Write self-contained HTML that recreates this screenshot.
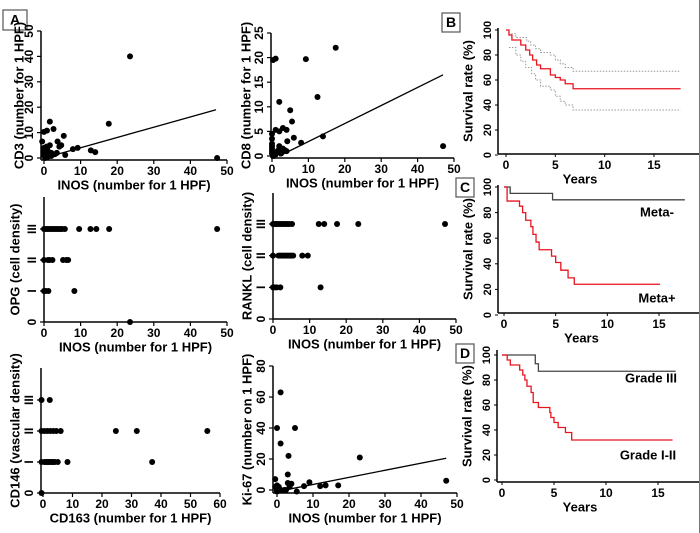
<!DOCTYPE html>
<html><head><meta charset="utf-8"><style>
body{margin:0;background:#fff;}
svg{display:block;font-family:"Liberation Sans",Arial,sans-serif;font-weight:bold;}
</style></head><body>
<svg id="fig" width="700" height="533" viewBox="0 0 700 533" xmlns="http://www.w3.org/2000/svg"></svg>
<script>
// ---------- data ----------
const cd3X=[23.5,17.7,47.3,12.8,14,9.2,7.9,5.4,4.7,3.7,4.2,2.6,1.6,1.6,0.8,0,-0.5,0,0.5,1,2,3,3.5,5.8,1,0,0.3,2,0,0.7];
const cd3Y=[40,13.5,0,3,2.3,4,3.5,8.7,5,6.5,4.5,11.4,14.3,5,10.8,10.3,6.5,4,2,3,2,1.5,2,1.2,0.5,1,0,0.8,2.5,4.5];
const cd3Fit=[[1.5,0.6],[47,19]];
const cd8X=[17.5,9.3,1,0.3,12.5,2,5,5.5,1,2,3,4,6,14,4.2,8,47,2,2,3,4,0,0,0,0,0,0,0,0.5,1,1.5,2.5,3.5];
const cd8Y=[22,19.7,19.8,19.5,12,11,9.3,7,5.3,5,5.7,5.3,3.7,4,3,2.7,2,2,1.5,1.5,1,4.5,3.5,2.5,2,1.5,1,0.5,0,0.3,1,0.5,1.2];
const cd8Fit=[[2,0],[47,16.5]];
const opgX=[0,0.5,1,1.5,2,2.5,3,3.5,4,4.5,5,5.7,9.6,12.7,14.3,17.8,47.3, 0,1.1,1.5,2.3,5.2,6.1,6.6, 0,0.5,1.2,8.3, 23.5];
const opgY=[3,3,3,3,3,3,3,3,3,3,3,3,3,3,3,3,3, 2,2,2,2,2,2,2, 1,1,1,1, 0];
const rankX=[0,0.5,1,1.5,2,2.5,3,3.5,4,4.5,5.2,12.5,14,17.5,23.3,47, 0,1.5,2,2.5,3,3.5,4,4.5,5,5.5,8,9.5, 0,0.5,1,2,13];
const rankY=[3,3,3,3,3,3,3,3,3,3,3,3,3,3,3,3, 2,2,2,2,2,2,2,2,2,2,2,2, 1,1,1,1,1];
const cd146X=[-0.5,2.3, -0.5,0.5,1.5,2.5,3.5,4.5,6,24.7,31.8,55.7, -0.5,0.5,1,1.5,2,2.5,3,3.5,4,5,8.3,37, -0.5];
const cd146Y=[3,3, 2,2,2,2,2,2,2,2,2,2, 1,1,1,1,1,1,1,1,1,1,1,1, 0];
const kiX=[1,0,5,1,3.2,23,3,-0.5,47,9,4,3,7.5,12,13.5,17,0,0,0.5,1,0,2,2.5,5.5,3.5,0,-0.5];
const kiY=[63,40,40,30,22,21,10,7,6,5,4,4.5,2.5,2.5,3,3,3,1,2,0,-1,0,0,-1,2,0,2];
const kiFit=[[0,-1],[47,20.5]];
const levelLabels=["0","I","II","III"];
// survival steps: times & values
const bT=[0,0.3,0.6,1.5,2,2.4,2.7,3.1,3.5,4.5,5,5.5,6,6.8,17.7];
const bV=[100,96,92,88,84,80,76,72,69,64,62,60,57,53,53];
const bUpT=[0,0.3,1,1.5,2.1,2.5,3,3.5,4.5,5,5.5,6,6.8,17.7];
const bUpV=[100,97,94,94,91,88,85,82,80,76,73,70,67,67];
const bLoT=[0.3,1,1.5,2,2.6,3,3.5,4.5,5,5.5,6,6.8,17.7];
const bLoV=[86,80,75,70,65,60,55,52,47,43,40,36,36];
const cMinusT=[0,0.6,4.7,17.5];
const cMinusV=[100,95,90,90];
const cPlusT=[0,0.3,1.5,1.8,2.1,2.6,2.8,3.1,3.4,4.6,5,5.5,6.2,6.8,15.1];
const cPlusV=[100,89,85,80,74,69,63,57,51,46,41,35,29,24,24];
const dIIIT=[0,3.2,3.5,16.7];
const dIIIV=[100,93,87,87];
const dIT=[0,0.5,0.8,1.7,2,2.2,2.4,2.8,3,3.5,4.6,4.7,5,5.4,6.1,6.7,16.4];
const dIV=[100,96,92,88,84,80,75,70,62,58,54,50,46,42,38,32,32];
const survTicks=[0,5,10,15];
const survYTicks=[0,20,40,60,80,100];

// ---------- helpers ----------
const svg=document.getElementById('fig');
const NS='http://www.w3.org/2000/svg';
function mk(tag,attrs,parent){const e=document.createElementNS(NS,tag);for(const k in attrs)e.setAttribute(k,attrs[k]);(parent||svg).appendChild(e);return e;}
function txt(s,x,y,size,parent,rot,anchor){const t=mk('text',{x:x,y:y,'font-size':size,'text-anchor':anchor||'middle','dominant-baseline':'middle',fill:'#000'},parent);if(rot)t.setAttribute('transform','rotate(-90 '+x+' '+y+')');t.textContent=s;return t;}
function box(label,x,y,w,h){const g=mk('g',{});
 mk('rect',{x:x,y:y,width:w,height:h,fill:'#fff',stroke:'#555','stroke-width':1.2},g);txt(label,x+w/2,y+h/2+1,14,g);}

function scatter(name,o,xs,ys,fit){
 const g=mk('g',{});
 const sx=v=>o.px0+(v-o.xmin)/(o.xmax-o.xmin)*(o.px1-o.px0);
 const sy=v=>o.py0+(v-o.ymin)/(o.ymax-o.ymin)*(o.py1-o.py0);
 mk('line',{x1:o.ax,y1:o.top,x2:o.ax,y2:o.ay,stroke:'#000','stroke-width':1.5},g);
 mk('line',{x1:o.ax,y1:o.ay,x2:sx(o.xmax),y2:o.ay,stroke:'#000','stroke-width':1.5},g);
 o.xt.forEach(v=>{mk('line',{x1:sx(v),y1:o.ay,x2:sx(v),y2:o.ay+4,stroke:'#000','stroke-width':1.2},g);txt(String(v),sx(v),o.ay+12,12,g);});
 o.yt.forEach((v,i)=>{mk('line',{x1:o.ax-4,y1:sy(v),x2:o.ax,y2:sy(v),stroke:'#000','stroke-width':1.2},g);txt(o.ytl?o.ytl[i]:String(v),o.ax-11,sy(v),12,g,true);});
 const xl=txt(o.xlabel,(o.ax+sx(o.xmax))/2,o.ay+26,13,g);
 const yl=txt(o.ylabel,o.ylx,(o.top+o.ay)/2,13,g,true);
 xs.forEach((x,i)=>{const c=mk('circle',{cx:sx(x),cy:sy(ys[i]),r:3,fill:'#000'},g);
  
  });
 if(fit){const l=mk('line',{x1:sx(fit[0][0]),y1:sy(fit[0][1]),x2:sx(fit[1][0]),y2:sy(fit[1][1]),stroke:'#000','stroke-width':1.3},g);
  
  }
}

function surv(name,o,series){
 const g=mk('g',{});
 const sx=v=>o.px0+v/15*(o.px15-o.px0);
 const sy=v=>o.p0+v/100*(o.p100-o.p0);
 mk('line',{x1:o.ax,y1:o.top,x2:o.ax,y2:o.ay,stroke:'#000','stroke-width':1.5},g);
 mk('line',{x1:o.ax,y1:o.ay,x2:o.right,y2:o.ay,stroke:'#000','stroke-width':1.5},g);
 survTicks.forEach(v=>{mk('line',{x1:sx(v),y1:o.ay,x2:sx(v),y2:o.ay+3,stroke:'#000'},g);txt(String(v),sx(v),o.ay+12,12,g);});
 survYTicks.forEach(v=>{if(sy(v)>o.ay+2)return;mk('line',{x1:o.ax-3,y1:sy(v),x2:o.ax,y2:sy(v),stroke:'#000'},g);txt(String(v),o.ax-10,sy(v),11,g,true);});
 const xl=txt('Years',(sx(0)+sx(15))/2,o.ay+26,13,g);
 const yl=txt('Survival rate (%)',o.ax-29,(o.top+o.ay)/2,13,g,true);
 series.forEach(s=>{let d='';s.t.forEach((t,i)=>{const x=sx(t),y=sy(s.v[i]);if(i===0)d='M'+x+' '+y;else d+=' H'+x+' V'+y;});
  const p=mk('path',{d:d,fill:'none',stroke:s.c,'stroke-width':s.w||1.3,'stroke-dasharray':s.dash||'none'},g);
  
  });
 return {sx,sy,g};
}

// ---------- panels ----------
box('A',3,10,24,20);
scatter('cd3-scatter',{px0:44,px1:227,xmin:0,xmax:50,py0:158,py1:31,ymin:0,ymax:50,ax:41,ay:160,top:31,xt:[0,10,20,30,40,50],yt:[0,10,20,30,40,50],xlabel:'INOS (number for 1 HPF)',ylabel:'CD3  (number for 1 HPF)',ylx:20},cd3X,cd3Y,cd3Fit);
scatter('cd8-scatter',{px0:272,px1:454,xmin:0,xmax:50,py0:156,py1:33,ymin:0,ymax:25,ax:271,ay:158,top:33,xt:[0,10,20,30,40,50],yt:[0,5,10,15,20,25],xlabel:'INOS (number for 1 HPF)',ylabel:'CD8  (number for 1 HPF)',ylx:247},cd8X,cd8Y,cd8Fit);
scatter('opg-scatter',{px0:44,px1:227,xmin:0,xmax:50,py0:322,py1:229,ymin:0,ymax:3,ax:44,ay:322,top:197,xt:[0,10,20,30,40,50],yt:[0,1,2,3],ytl:levelLabels,xlabel:'INOS (number for 1 HPF)',ylabel:'OPG (cell density)',ylx:16},opgX,opgY,null);
scatter('rankl-scatter',{px0:273,px1:456,xmin:0,xmax:50,py0:319,py1:224,ymin:0,ymax:3,ax:273,ay:319,top:193,xt:[0,10,20,30,40,50],yt:[0,1,2,3],ytl:levelLabels,xlabel:'INOS (number for 1 HPF)',ylabel:'RANKL (cell density)',ylx:248},rankX,rankY,null);
scatter('cd146-scatter',{px0:43,px1:220,xmin:0,xmax:60,py0:493,py1:400,ymin:0,ymax:3,ax:41,ay:493,top:368,xt:[0,10,20,30,40,50,60],yt:[0,1,2,3],ytl:levelLabels,xlabel:'CD163 (number for 1 HPF)',ylabel:'CD146  (vascular density)',ylx:16},cd146X,cd146Y,null);
scatter('ki67-scatter',{px0:277,px1:457,xmin:0,xmax:50,py0:490,py1:366,ymin:0,ymax:80,ax:273,ay:493,top:366,xt:[0,10,20,30,40,50],yt:[0,20,40,60,80],xlabel:'INOS (number for 1 HPF)',ylabel:'Ki-67 (number on 1 HPF)',ylx:248},kiX,kiY,kiFit);

box('B',442,13,18,19);
surv('survival-overall',{ax:498,ay:154,top:28,right:699,px0:506,px15:654,p0:155,p100:30},[
 {t:bUpT,v:bUpV,c:'#999',dash:'1.5 1.5',n:'upper-ci-line',w:1},
 {t:bLoT,v:bLoV,c:'#999',dash:'1.5 1.5',n:'lower-ci-line',w:1},
 {t:bT,v:bV,c:'#e8141e',n:'survival-curve'}]);
box('C',456,178,18,19);
surv('survival-metastasis',{ax:498,ay:313,top:185,right:699,px0:504,px15:659,p0:315,p100:187},[
 {t:cMinusT,v:cMinusV,c:'#444',n:'meta-minus-curve'},
 {t:cPlusT,v:cPlusV,c:'#e8141e',n:'meta-plus-curve'}]);
txt('Meta-',657,213,13);
txt('Meta+',657,299,13);
box('D',456,344,18,19);
surv('survival-grade',{ax:497,ay:482,top:350,right:699,px0:502,px15:658,p0:480,p100:355},[
 {t:dIIIT,v:dIIIV,c:'#444',n:'grade-iii-curve'},
 {t:dIT,v:dIV,c:'#e8141e',n:'grade-i-ii-curve'}]);
txt('Grade III',651,379,13);
txt('Grade  I-II',648,456,13);
mk('line',{x1:699.5,y1:0,x2:699.5,y2:533,stroke:'#777','stroke-width':1});
</script>
</body></html>
